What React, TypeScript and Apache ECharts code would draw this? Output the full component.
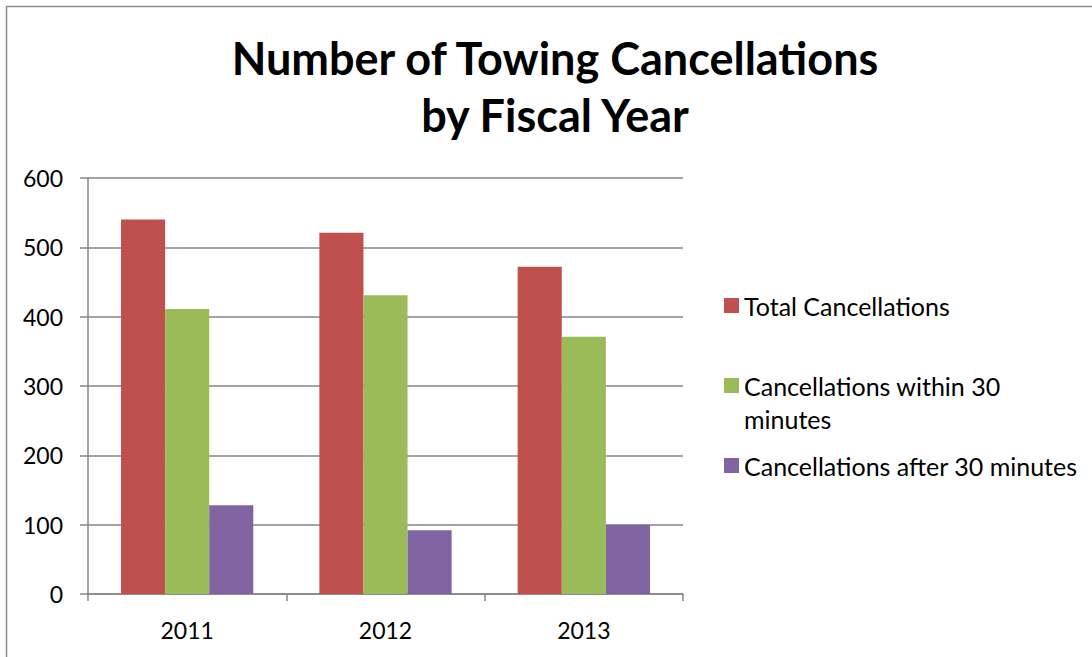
import React, { useEffect, useRef } from "react";
import * as echarts from "echarts";

const categories = ["2011", "2012", "2013"];
const totalCancellations = [540, 521, 472];
const within30 = [411, 431, 371];
const after30 = [128, 92, 100];
const seriesNames = [
  "Total Cancellations",
  "Cancellations within 30 minutes",
  "Cancellations after 30 minutes",
];
const titleText = "Number of Towing Cancellations\nby Fiscal Year";

const FONT = "Lato, 'Open Sans', sans-serif";

export default function App() {
  const ref = useRef<HTMLDivElement>(null);
  useEffect(() => {
    if (!ref.current) return;
    const chart = echarts.init(ref.current, undefined, { renderer: "svg" });
    const colors = ["#C0504D", "#9BBB59", "#8064A2"];
    const values = [totalCancellations, within30, after30];
    chart.setOption({
      animation: false,
      backgroundColor: "#ffffff",
      textStyle: { fontFamily: FONT },
      title: {
        text: titleText,
        left: 555,
        textAlign: "center",
        top: 29,
        padding: 0,
        textStyle: {
          fontFamily: FONT,
          fontWeight: "bold",
          fontSize: 45,
          lineHeight: 57,
          color: "#000",
        },
      },
      graphic: [
        {
          type: "rect",
          shape: { x: 6.5, y: 6.5, width: 1200, height: 800 },
          style: { fill: "none", stroke: "#8c8c8c", lineWidth: 1.5 },
          silent: true,
        },
      ],
      legend: {
        orient: "vertical",
        left: 724,
        top: 289,
        padding: 0,
        itemGap: 14,
        itemWidth: 15,
        itemHeight: 15,
        icon: "rect",
        textStyle: {
          fontFamily: FONT,
          fontSize: 25,
          lineHeight: 33,
          color: "#000",
        },
        formatter: (name: string) =>
          name === seriesNames[1] ? " \nCancellations within 30\nminutes" : name,
        data: seriesNames.map((name) => ({ name })),
      },
      grid: { left: 88, right: 409, top: 178, bottom: 63 },
      xAxis: {
        type: "category",
        data: categories,
        axisLine: { lineStyle: { color: "#868686", width: 1.5 } },
        axisTick: { show: true, length: 7, lineStyle: { color: "#868686", width: 1.5 } },
        axisLabel: { color: "#000", fontSize: 23, fontFamily: FONT, margin: 24 },
      },
      yAxis: {
        type: "value",
        min: 0,
        max: 600,
        interval: 100,
        axisLine: { show: true, lineStyle: { color: "#868686", width: 1.5 } },
        axisTick: { show: true, length: 8, lineStyle: { color: "#868686", width: 1.5 } },
        axisLabel: { color: "#000", fontSize: 23, fontFamily: FONT, margin: 25 },
        splitLine: { lineStyle: { color: "#868686", width: 1.5 } },
      },
      series: seriesNames.map((name, i) => ({
        name,
        type: "bar",
        data: values[i],
        barGap: "0%",
        barCategoryGap: "33.3%",
        itemStyle: { color: colors[i] },
      })),
    });
    return () => chart.dispose();
  }, []);
  return (
    <div
      ref={ref}
      style={{ position: "fixed", left: 0, top: 0, width: 1092, height: 657 }}
    />
  );
}
